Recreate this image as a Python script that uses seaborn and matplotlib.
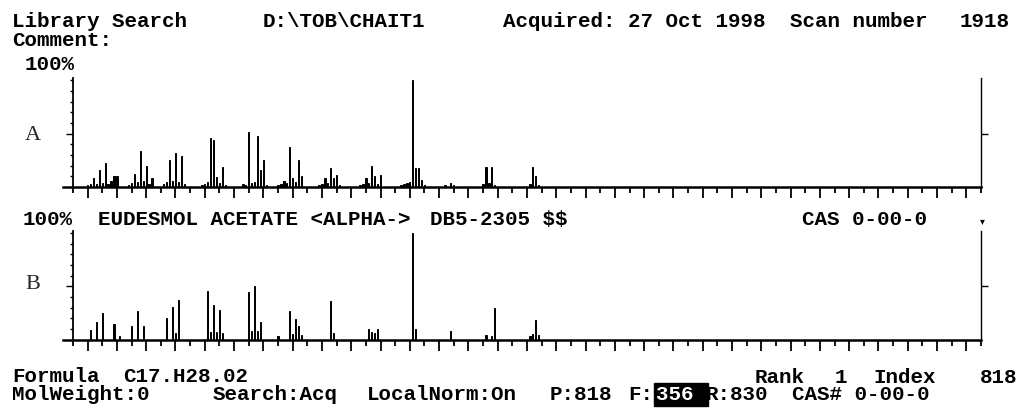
import numpy as np
import pandas as pd
import matplotlib
matplotlib.use("Agg")
import matplotlib.pyplot as plt
import seaborn as sns

# --------------------------
# Datos leidos del espectro (m/z, % relativo)
# --------------------------
a_mz = [50, 51, 52, 53, 54, 55, 56, 57, 58, 59, 60, 64, 65, 66, 67, 68, 69, 70, 71, 72,
        76, 77, 78, 79, 80, 81, 82, 83, 89, 90, 91, 92, 93, 94, 95, 96, 97,
        103, 104, 105, 106, 107, 108, 109, 110, 111, 115, 116, 117, 118, 119, 120, 121, 122, 123,
        129, 130, 131, 132, 133, 134, 135, 136, 143, 144, 145, 146, 147, 148, 149, 150,
        157, 158, 159, 160, 161, 162, 163, 164, 165, 172, 174, 175,
        185, 186, 187, 188, 189, 201, 202, 203, 204]
a_int = [2, 3, 8.5, 3, 15.6, 4, 22.6, 3, 6, 10, 10.5, 2, 4, 12, 5, 33.6, 6, 19.5, 3, 8,
         3, 5, 24.8, 6, 31.5, 5, 28.7, 3, 2, 3, 5, 46, 44, 9, 4, 19, 2,
         3, 2, 51.7, 4, 5, 47.4, 15.6, 24.8, 2, 2, 3, 6, 4, 37, 8, 5, 24.8, 10,
         2, 3, 8.5, 4, 18, 8, 11, 2, 2, 3, 8.5, 4, 20, 10, 3, 11,
         2, 3, 4, 5, 100, 18, 18, 7, 2, 2, 4, 2,
         3, 19, 4, 19, 2, 3, 19, 10, 2]

b_mz = [51, 53, 55, 59, 61, 65, 67, 69, 77, 79, 80, 81, 91, 92, 93, 94, 95, 96,
        105, 106, 107, 108, 109, 115, 119, 120, 121, 122, 123, 133, 134,
        146, 147, 148, 149, 161, 162, 174, 186, 188, 189, 201, 202, 203, 204]
b_int = [9, 16, 25, 14.5, 3, 13, 26.5, 12.5, 20.5, 31, 6, 37, 46, 7, 32.5, 7, 28, 6,
         45, 8, 50, 8, 16, 3, 27, 5, 19, 13, 4, 36, 6,
         10, 7, 6, 10, 100, 10, 8, 4, 3, 30, 3, 5, 18.5, 4]

panel_labels = ["A", "B"]

# Textos de cabecera y pie (texto, x px, y px de linea base)
header_texts = [
    ("Library Search", 12, 27),
    ("D:\\TOB\\CHAIT1", 263, 27),
    ("Acquired: 27 Oct 1998", 503, 27),
    ("Scan number", 790, 27),
    ("1918", 960, 27),
    ("Comment:", 12, 46),
    ("100%", 25, 70),
    ("100%", 23, 225),
    ("EUDESMOL ACETATE <ALPHA->", 98, 225),
    ("DB5-2305 $$", 430, 225),
    ("CAS 0-00-0", 802, 225),
    ("Formula", 12, 382),
    ("C17.H28.02", 123, 382),
    ("Rank", 755, 383),
    ("1", 835, 383),
    ("Index", 873, 383),
    ("818", 980, 383),
    ("MolWeight:0", 12, 400),
    ("Search:Acq", 213, 400),
    ("LocalNorm:On", 367, 400),
    ("P:818", 550, 400),
    ("F:", 628, 400),
    ("R:830", 706, 400),
    ("CAS# 0-00-0", 792, 400),
]

W, H = 1024, 409

sns.set_style("white")
plt.rcParams["font.family"] = ["Liberation Mono", "DejaVu Sans"]

fig = plt.figure(figsize=(W / 100, H / 100), dpi=100)
fig.patch.set_facecolor("white")


def fx(x):
    return x / W


def fy(y):
    return 1 - y / H


# --------------------------
# Paneles del espectro
# --------------------------
left = fx(63)
width = (981 - 63) / W
boxes = [
    [left, fy(187), width, (187 - 78) / H],
    [left, fy(339.5), width, (339.5 - 231) / H],
]
datasets = [(a_mz, a_int), (b_mz, b_int)]

for box, (mz, rel) in zip(boxes, datasets):
    ax = fig.add_axes(box)
    df = pd.DataFrame({"mz": mz, "rel": rel})
    sns.barplot(data=df, x="mz", y="rel", native_scale=True, orient="x",
                width=0.45, color="black", saturation=1, errorbar=None,
                edgecolor="black", linewidth=0.7, ax=ax)
    ax.set_xlim(41.6, 355)
    ax.set_ylim(0, 102)
    ax.set(xlabel="", ylabel="")
    ax.set_facecolor("none")

    for side in ["left", "right", "bottom"]:
        ax.spines[side].set_visible(True)
        ax.spines[side].set_color("black")
    ax.spines["top"].set_visible(False)
    ax.spines["left"].set_position(("data", 45))
    ax.spines["left"].set_linewidth(1.3)
    ax.spines["right"].set_linewidth(1.0)
    ax.spines["bottom"].set_linewidth(1.8)

    ax.set_xticks(np.arange(50, 351, 10))
    ax.set_xticks(np.arange(45, 356, 10), minor=True)
    ax.tick_params(axis="x", which="major", direction="out", length=8, width=1.3,
                   bottom=True, labelbottom=False, color="black")
    ax.tick_params(axis="x", which="minor", direction="out", length=4.5, width=1.3,
                   bottom=True, color="black")
    ax.set_yticks([50])
    ax.set_yticks([0, 10, 20, 30, 40, 60, 70, 80, 90, 100], minor=True)
    ax.tick_params(axis="y", which="major", direction="out", length=5, width=1,
                   left=True, right=True, labelleft=False, color="black")
    ax.tick_params(axis="y", which="minor", direction="out", length=2.5, width=1,
                   left=True, right=False, color="black")

# Etiquetas A / B
fig.text(fx(33), fy(135), panel_labels[0], ha="center", va="center",
         family="Liberation Serif", fontsize=16)
fig.text(fx(33), fy(284.5), panel_labels[1], ha="center", va="center",
         family="Liberation Serif", fontsize=16)

# --------------------------
# Textos
# --------------------------
for txt, x, y in header_texts:
    fig.text(fx(x), fy(y), txt, ha="left", va="baseline", parse_math=False,
             fontsize=15, fontweight="bold", color="black")

# Valor F resaltado
fig.text(fx(656), fy(400), "356 ", ha="left", va="baseline", fontsize=15,
         fontweight="bold", color="white",
         bbox=dict(facecolor="black", edgecolor="black", pad=1.5))

fig.text(fx(982), fy(221), "\u25be", ha="center", va="center",
         family="DejaVu Sans", fontsize=7, color="black")

fig.savefig("out.png", dpi=100, facecolor="white")
